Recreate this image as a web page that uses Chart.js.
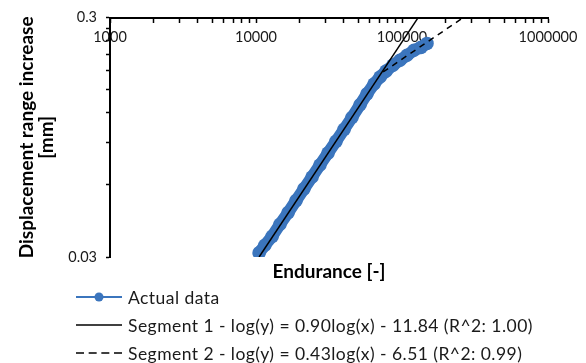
<!DOCTYPE html>
<html>
<head>
<meta charset="utf-8">
<script src="https://cdn.jsdelivr.net/npm/chart.js@4.4.1/dist/chart.umd.min.js"></script>
<style>
    body { margin: 0; background: #fff; }
    #wrap { position: relative; width: 586px; height: 363px; font-family: Lato, sans-serif; }
    #legend { position: absolute; left: 76px; top: 283px; }
    .row { display: flex; align-items: center; height: 28px; font-size: 17.5px; letter-spacing: 0.45px; color: #1a1a1a; white-space: nowrap; }
    .row svg { margin-right: 6px; }
</style>
</head>
<body>
<div id="wrap">
    <canvas id="enduranceChart" width="586" height="363"></canvas>
    <div id="legend"></div>
</div>
<script>
// Actual data (endurance in cycles, displacement range increase in mm)
const endurance = [10500, 11500, 12900, 14600, 16600, 18800, 21300, 24200, 27400, 31100,
    35300, 40100, 45400, 51600, 57600, 64300, 70700, 77700, 86800, 96900,
    108200, 120800, 134900, 148300];
const displacement = [0.0312, 0.0336, 0.0366, 0.0411, 0.0460, 0.0516, 0.0578, 0.0648, 0.0727, 0.0815,
    0.0913, 0.1024, 0.1148, 0.1299, 0.1442, 0.1586, 0.1695, 0.1794, 0.1900, 0.1992,
    0.2090, 0.2192, 0.2255, 0.2342];

// Fitted segments
const seg1X = [10500, 129000];
const seg1Y = [0.03, 0.3];
const seg2X = [74300, 262000];
const seg2Y = [0.178, 0.3];

const seriesLabels = [
    'Actual data',
    'Segment 1 - log(y) = 0.90log(x) - 11.84 (R^2: 1.00)',
    'Segment 2 - log(y) = 0.43log(x) - 6.51 (R^2: 0.99)'
];

// Axis ticks
const xMajor = [1000, 10000, 100000, 1000000];
const yTicks = [0.03, 0.06, 0.09, 0.12, 0.15, 0.18, 0.21, 0.24, 0.27, 0.3];
const yLabels = [0.03, 0.3];

const xTicks = [];
for (let d = 0; d < xMajor.length - 1; d++) {
    for (let k = 1; k < 10; k++) xTicks.push(xMajor[d] * k);
}
xTicks.push(xMajor[xMajor.length - 1]);

const blue = '#3B75BD';

function toPoints(xs, ys) {
    return xs.map((x, i) => ({ x: x, y: ys[i] }));
}

Chart.defaults.font.family = 'Lato, sans-serif';
Chart.defaults.color = '#1a1a1a';

const chart = new Chart(document.getElementById('enduranceChart'), {
    type: 'scatter',
    data: {
        datasets: [
            {
                label: seriesLabels[0],
                data: toPoints(endurance, displacement),
                showLine: true,
                borderColor: blue,
                backgroundColor: blue,
                borderWidth: 12,
                borderJoinStyle: 'round',
                borderCapStyle: 'round',
                pointRadius: 6.8,
                pointBorderWidth: 0,
                order: 3
            },
            {
                label: seriesLabels[1],
                data: toPoints(seg1X, seg1Y),
                showLine: true,
                borderColor: '#000',
                borderWidth: 1.5,
                pointRadius: 0,
                order: 1
            },
            {
                label: seriesLabels[2],
                data: toPoints(seg2X, seg2Y),
                showLine: true,
                borderColor: '#000',
                borderWidth: 1.5,
                borderDash: [6, 5],
                pointRadius: 0,
                order: 2
            }
        ]
    },
    options: {
        responsive: false,
        animation: false,
        layout: {
            padding: { left: 0, top: 15, right: 38, bottom: 77 }
        },
        plugins: {
            legend: { display: false },
            tooltip: { enabled: false }
        },
        scales: {
            x: {
                type: 'logarithmic',
                position: { y: 0.3 },
                min: 1000,
                max: 1000000,
                afterBuildTicks: function(scale) {
                    scale.ticks = xTicks.map(v => ({ value: v }));
                },
                afterFit: function(scale) {
                    scale.height = 0;
                },
                ticks: {
                    autoSkip: false,
                    maxRotation: 0,
                    padding: 7,
                    font: { size: 14.5 },
                    callback: function(value) {
                        return xMajor.includes(value) ? String(value) : '';
                    }
                },
                grid: {
                    drawOnChartArea: false,
                    tickLength: 4,
                    color: '#000',
                    tickWidth: 1.5
                },
                border: { color: '#000', width: 2 }
            },
            x2: {
                type: 'linear',
                position: 'bottom',
                afterFit: function(scale) {
                    scale.height = 29;
                },
                ticks: { display: false },
                grid: { display: false },
                border: { display: false },
                title: {
                    display: true,
                    text: 'Endurance [-]',
                    font: { size: 19, weight: 'bold', lineHeight: 1.1 },
                    color: '#000',
                    padding: { top: 4, bottom: 4 }
                }
            },
            y: {
                type: 'logarithmic',
                position: 'left',
                min: 0.03,
                max: 0.3,
                afterBuildTicks: function(scale) {
                    scale.ticks = yTicks.map(v => ({ value: v }));
                },
                afterFit: function(scale) {
                    scale.width = 110;
                },
                ticks: {
                    autoSkip: false,
                    padding: 9,
                    font: { size: 14.5 },
                    callback: function(value) {
                        return yLabels.includes(value) ? String(value) : '';
                    }
                },
                grid: {
                    drawOnChartArea: false,
                    tickLength: 4,
                    color: '#000',
                    tickWidth: 1.5
                },
                border: { color: '#000', width: 2 },
                title: {
                    display: true,
                    text: ['Displacement range increase', '[mm]'],
                    font: { size: 19, weight: 'bold', lineHeight: 1.1 },
                    color: '#000',
                    padding: { top: 16, bottom: 0 }
                }
            }
        }
    }
});

// HTML legend built from the datasets
const legend = document.getElementById('legend');
chart.data.datasets.forEach(function(ds, i) {
    let marker;
    if (i === 0) {
        marker = '<line x1="0" y1="6" x2="46" y2="6" stroke="' + blue + '" stroke-width="2"/>' +
                 '<circle cx="23" cy="6" r="4.5" fill="' + blue + '"/>';
    } else if (i === 1) {
        marker = '<line x1="0" y1="6" x2="46" y2="6" stroke="#000" stroke-width="1.5"/>';
    } else {
        marker = '<line x1="0" y1="6" x2="46" y2="6" stroke="#000" stroke-width="1.5" stroke-dasharray="8 4.67"/>';
    }
    const row = document.createElement('div');
    row.className = 'row';
    row.innerHTML = '<svg width="46" height="12">' + marker + '</svg><span>' + ds.label + '</span>';
    legend.appendChild(row);
});
</script>
</body>
</html>
